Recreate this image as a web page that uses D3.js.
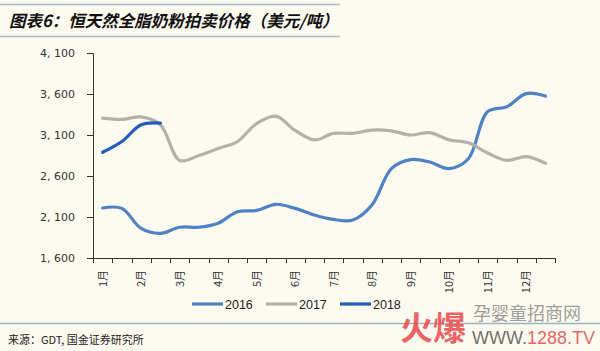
<!DOCTYPE html>
<html>
<head>
<meta charset="utf-8">
<script src="https://cdn.jsdelivr.net/npm/d3@7"></script>
<style>
  body { margin: 0; background: #fdfbf0; }
  svg { display: block; }
</style>
</head>
<body>
<div class="chart"></div>
<script>
// chart size, same as the window
var svgWidth = 600;
var svgHeight = 351;

var margin = { top: 53, right: 45, bottom: 93, left: 93 };
var width = svgWidth - margin.left - margin.right;
var height = svgHeight - margin.top - margin.bottom;

// two auctions a month -> 24 slots, label every other one
var slots = d3.range(24);
var monthLabels = ["1月", "2月", "3月", "4月", "5月", "6月", "7月", "8月", "9月", "10月", "11月", "12月"];
var yTicks = [1600, 2100, 2600, 3100, 3600, 4100];

var v2016 = [2210, 2205, 1960, 1900, 1975, 1975, 2025, 2165, 2180, 2255, 2205, 2125,
             2070, 2063, 2250, 2690, 2800, 2770, 2690, 2810, 3385, 3445, 3605, 3575];
var v2017 = [3305, 3290, 3320, 3225, 2790, 2850, 2935, 3020, 3240, 3330, 3155, 3040,
             3120, 3120, 3160, 3150, 3100, 3128, 3040, 3005, 2880, 2790, 2836, 2755];
var v2018 = [2889, 3020, 3225, 3245];

var seriesNames = ["2016", "2017", "2018"];
var seriesColors = ["#4f81c7", "#b3b1aa", "#1f5cbc"];

var svg = d3.select(".chart")
  .append("svg")
  .attr("width", svgWidth)
  .attr("height", svgHeight);

svg.append("rect")
  .attr("width", svgWidth)
  .attr("height", svgHeight)
  .attr("fill", "#fdfbf0");

// title + rules
svg.append("line").attr("x1", 0).attr("x2", 340).attr("y1", 4.5).attr("y2", 4.5)
  .attr("stroke", "#a9bccb").attr("stroke-width", 1.5);
svg.append("line").attr("x1", 0).attr("x2", 340).attr("y1", 36.5).attr("y2", 36.5)
  .attr("stroke", "#a9bccb").attr("stroke-width", 1.5);
svg.append("text")
  .attr("x", 9).attr("y", 27)
  .attr("font-family", "Noto Sans CJK SC")
  .attr("font-size", 16.5)
  .attr("font-weight", "bold")
  .attr("font-style", "italic")
  .attr("fill", "#111")
  .text("图表6：恒天然全脂奶粉拍卖价格（美元/吨）");

var chartGroup = svg.append("g")
  .attr("transform", `translate(${margin.left}, ${margin.top})`);

var x = d3.scaleBand().domain(slots).range([0, width]).padding(0);
var y = d3.scaleLinear().domain([1600, 4100]).range([height, 0]);
var cx = function(i) { return x(i) + x.bandwidth() / 2; };

// y axis
var leftAxis = d3.axisLeft(y)
  .tickValues(yTicks)
  .tickSize(6)
  .tickPadding(12)
  .tickFormat(function(d) { return d3.format(",")(d).replace(",", ", "); });
var yAxis = chartGroup.append("g").call(leftAxis);
yAxis.select(".domain").attr("stroke", "#333");
yAxis.selectAll(".tick line").attr("stroke", "#333");
yAxis.selectAll("text")
  .attr("font-family", "DejaVu Sans")
  .attr("font-size", 11)
  .attr("fill", "#333");

// x axis: ticks on slot borders
var xAxisG = chartGroup.append("g").attr("transform", `translate(0, ${height})`);
xAxisG.append("line")
  .attr("x1", 0).attr("x2", width)
  .attr("y1", 0.5).attr("y2", 0.5)
  .attr("stroke", "#333");
xAxisG.selectAll(".xt")
  .data(d3.range(25))
  .enter()
  .append("line")
  .attr("x1", d => Math.round(d * x.bandwidth()) + 0.5)
  .attr("x2", d => Math.round(d * x.bandwidth()) + 0.5)
  .attr("y1", 0).attr("y2", 5)
  .attr("stroke", "#333");
xAxisG.selectAll(".xl")
  .data(monthLabels)
  .enter()
  .append("text")
  .attr("transform", (d, i) => `translate(${cx(i * 2) + 4}, 12) rotate(-90)`)
  .attr("text-anchor", "end")
  .attr("font-family", "Noto Sans CJK SC")
  .attr("font-size", 11)
  .attr("fill", "#333")
  .text(d => d);

// lines
var line = d3.line()
  .x((d, i) => cx(i))
  .y(d => y(d))
  .curve(d3.curveCatmullRom.alpha(0.5));

[v2016, v2017, v2018].forEach(function(vals, k) {
  chartGroup.append("path")
    .datum(vals)
    .attr("d", line)
    .attr("fill", "none")
    .attr("stroke", seriesColors[k])
    .attr("stroke-width", 3.2)
    .attr("stroke-linecap", "round");
});

// legend
var legendX = [192, 266, 340];
var legend = svg.append("g").attr("transform", "translate(0, 304)");
seriesNames.forEach(function(name, k) {
  legend.append("line")
    .attr("x1", legendX[k]).attr("x2", legendX[k] + 31)
    .attr("y1", 0).attr("y2", 0)
    .attr("stroke", seriesColors[k])
    .attr("stroke-width", 3.2);
  legend.append("text")
    .attr("x", legendX[k] + 33).attr("y", 4.5)
    .attr("font-family", "Liberation Sans")
    .attr("font-size", 12.5)
    .attr("fill", "#222")
    .text(name);
});

// bottom rule + source
svg.append("line").attr("x1", 0).attr("x2", 600).attr("y1", 323.5).attr("y2", 323.5)
  .attr("stroke", "#9fb3c3").attr("stroke-width", 1.5);
svg.append("text")
  .attr("x", 8).attr("y", 344)
  .attr("font-family", "Noto Sans CJK SC")
  .attr("font-size", 11)
  .attr("fill", "#222")
  .text("来源：GDT, 国金证券研究所");

// watermark
var wm = svg.append("g");
wm.append("text")
  .attr("x", 400).attr("y", 340)
  .attr("font-family", "Noto Sans CJK SC")
  .attr("font-size", 33)
  .attr("font-weight", "bold")
  .attr("fill", "#e8474c")
  .attr("fill-opacity", 0.85)
  .text("火爆");
wm.append("text")
  .attr("x", 473).attr("y", 320)
  .attr("font-family", "Noto Sans CJK SC")
  .attr("font-size", 18)
  .attr("fill", "#8a8a8a")
  .attr("fill-opacity", 0.85)
  .text("孕婴童招商网");
var wmUrl = wm.append("text")
  .attr("x", 472).attr("y", 344)
  .attr("font-family", "Liberation Sans")
  .attr("font-size", 18)
  .attr("fill-opacity", 0.85);
wmUrl.append("tspan").attr("fill", "#555").text("WWW.");
wmUrl.append("tspan").attr("fill", "#e8474c").text("1288.TV");
</script>
</body>
</html>
